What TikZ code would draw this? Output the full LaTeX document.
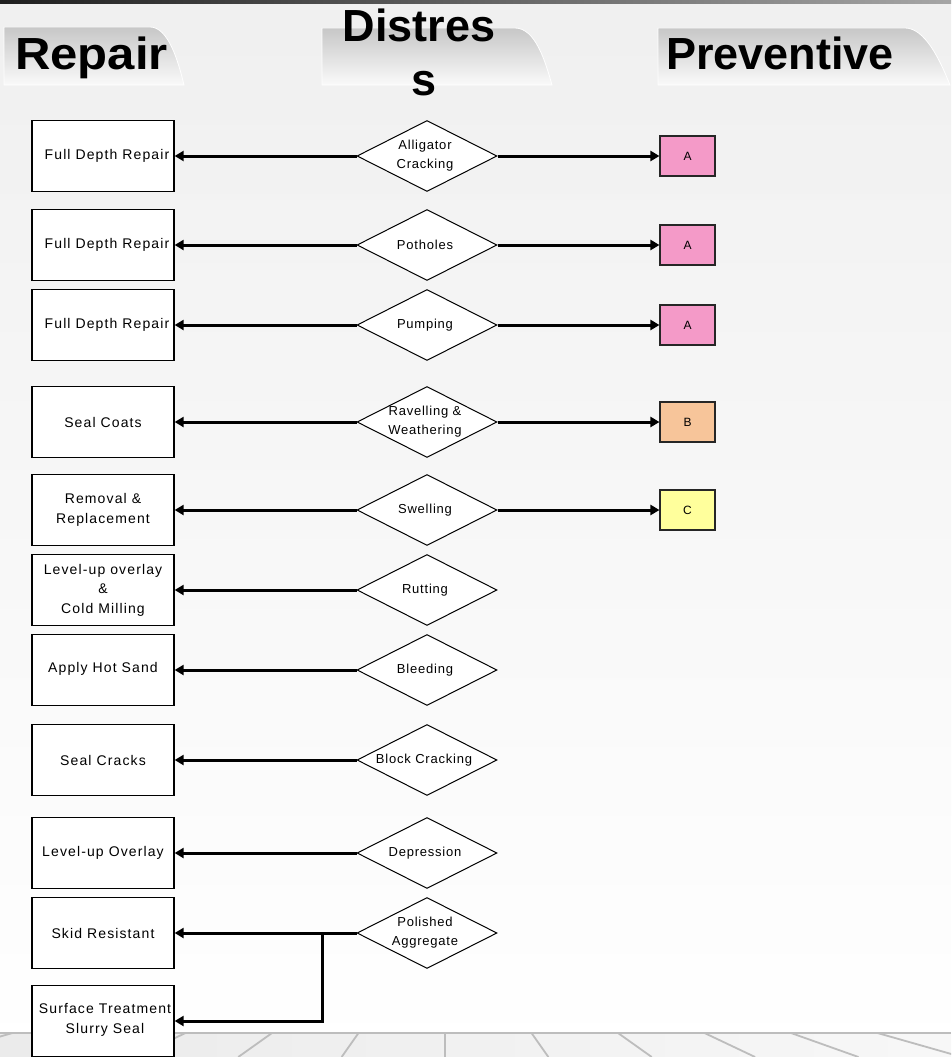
\documentclass[tikz,border=0pt]{standalone}
\usepackage{fontspec}
\setmainfont{Liberation Sans}
\newfontfamily\boxfont[LetterSpace=8]{Liberation Sans}
\newfontfamily\diafont[LetterSpace=6]{Liberation Sans}
\newfontfamily\headfont{Liberation Sans}
\usetikzlibrary{shapes.geometric,arrows.meta}
\definecolor{pinkA}{HTML}{F49AC8}
\definecolor{orangeB}{HTML}{F7C59A}
\definecolor{yellowC}{HTML}{FFFF9C}
\definecolor{floorline}{HTML}{BDBDBD}
\tikzset{
  repbox/.style={draw=black, line width=1.3pt, fill=white, minimum width=142pt, minimum height=71pt, inner sep=0pt},
  distbox/.style={diamond, draw=black, line width=1pt, fill=white, minimum width=140pt, minimum height=71pt, inner sep=0pt},
  prevbox/.style={draw=black!85, line width=1.1pt, minimum width=55pt, minimum height=40pt, inner sep=0pt, font=\fontsize{12}{14}\diafont},
  rtxt/.style={align=center, font=\fontsize{14}{19.5}\boxfont, inner sep=0pt},
  dtxt/.style={align=center, font=\fontsize{13}{19}\diafont, inner sep=0pt},
  conn/.style={line width=3pt, line join=miter, -{Triangle[length=9pt,width=10pt]}},
  tab/.style={top color=black!22, bottom color=black!2, draw=white, line width=0.8pt},
  headtxt/.style={font=\fontsize{45}{50}\headfont\bfseries, inner sep=0pt},
}
\begin{document}
\begin{tikzpicture}[x=1pt, y=-1pt]
\useasboundingbox (0,0) rectangle (951,1057);
\clip (0,0) rectangle (951,1057);

% page background and top strip
\fill[top color=black!6, bottom color=white] (0,0) rectangle (951,1057);
\fill[left color=black!88, right color=black!35] (0,0) rectangle (951,4);

% floor at the bottom
\fill[left color=black!8, right color=black!3] (0,1033) rectangle (951,1057);
\foreach \k in {-5,...,6} {
  \draw[floorline, line width=1.8pt] ({445+86.5*\k},1033) -- ({445+86.5*\k*1.195},1057);
}
\draw[floorline, line width=2.5pt] (0,1033) -- (951,1033);

% column header tabs
\path[tab] (4,27) -- (150,27) .. controls (168,27) and (178,60) .. (184,85) -- (4,85) -- cycle;
\path[tab] (322,28) -- (515,28) .. controls (535,28) and (545,60) .. (552,85) -- (322,85) -- cycle;
\path[tab] (658,28) -- (905,28) .. controls (925,28) and (940,60) .. (950,85) -- (658,85) -- cycle;
\node[headtxt, anchor=base west, xscale=1.09] (hrep) at (15,70) {Repair};
\node[headtxt, anchor=base] (hdist1) at (419,42) {Distres};
\node[headtxt, anchor=base] (hdist2) at (424,95) {s};
\node[headtxt, anchor=base west] (hprev) at (666,70) {Preventive};

% repair boxes
\node[repbox, label={[rtxt, xshift=4pt]center:Full Depth Repair}] (r1) at (103,156) {};
\node[repbox, label={[rtxt, xshift=4pt]center:Full Depth Repair}] (r2) at (103,245) {};
\node[repbox, label={[rtxt, xshift=4pt]center:Full Depth Repair}] (r3) at (103,325) {};
\node[repbox, label={[rtxt]center:Seal Coats}] (r4) at (103,422) {};
\node[repbox, label={[rtxt]center:Removal \&\\Replacement}] (r5) at (103,510) {};
\node[repbox, label={[rtxt]center:Level-up overlay\\\&\\Cold Milling}] (r6) at (103,590) {};
\node[repbox, label={[rtxt, yshift=1pt]center:Apply Hot Sand}] (r7) at (103,670) {};
\node[repbox, label={[rtxt]center:Seal Cracks}] (r8) at (103,760) {};
\node[repbox, label={[rtxt]center:Level-up Overlay}] (r9) at (103,853) {};
\node[repbox, label={[rtxt]center:Skid Resistant}] (r10) at (103,933) {};
\node[repbox, label={[rtxt, xshift=2pt, yshift=1pt]center:Surface Treatment\\Slurry Seal}] (r11) at (103,1021) {};

% distress diamonds
\node[distbox, label={[dtxt, xshift=-2pt]center:Alligator\\Cracking}] (d1) at (427,156) {};
\node[distbox, label={[dtxt, xshift=-2pt]center:Potholes}] (d2) at (427,245) {};
\node[distbox, label={[dtxt, xshift=-2pt]center:Pumping}] (d3) at (427,325) {};
\node[distbox, label={[dtxt, xshift=-2pt]center:Ravelling \&\\Weathering}] (d4) at (427,422) {};
\node[distbox, label={[dtxt, xshift=-2pt]center:Swelling}] (d5) at (427,510) {};
\node[distbox, label={[dtxt, xshift=-2pt]center:Rutting}] (d6) at (427,590) {};
\node[distbox, label={[dtxt, xshift=-2pt]center:Bleeding}] (d7) at (427,670) {};
\node[distbox, label={[dtxt, xshift=-3pt]center:Block Cracking}] (d8) at (427,760) {};
\node[distbox, label={[dtxt, xshift=-2pt]center:Depression}] (d9) at (427,853) {};
\node[distbox, label={[dtxt, xshift=-2pt]center:Polished\\Aggregate}] (d10) at (427,933) {};

% preventive boxes
\node[prevbox, fill=pinkA] (p1) at (687.5,156) {A};
\node[prevbox, fill=pinkA] (p2) at (687.5,245) {A};
\node[prevbox, fill=pinkA] (p3) at (687.5,325) {A};
\node[prevbox, fill=orangeB] (p4) at (687.5,422) {B};
\node[prevbox, fill=yellowC] (p5) at (687.5,510) {C};

% connectors towards repair
\foreach \i in {1,...,10} {
  \draw[conn] (d\i.west) -- (r\i.east);
}
\coordinate (split) at (322,933);
\draw[conn] (split) |- (r11.east);

% connectors towards preventive
\foreach \i in {1,...,5} {
  \draw[conn] (d\i.east) -- (p\i.west);
}
\end{tikzpicture}
\end{document}
